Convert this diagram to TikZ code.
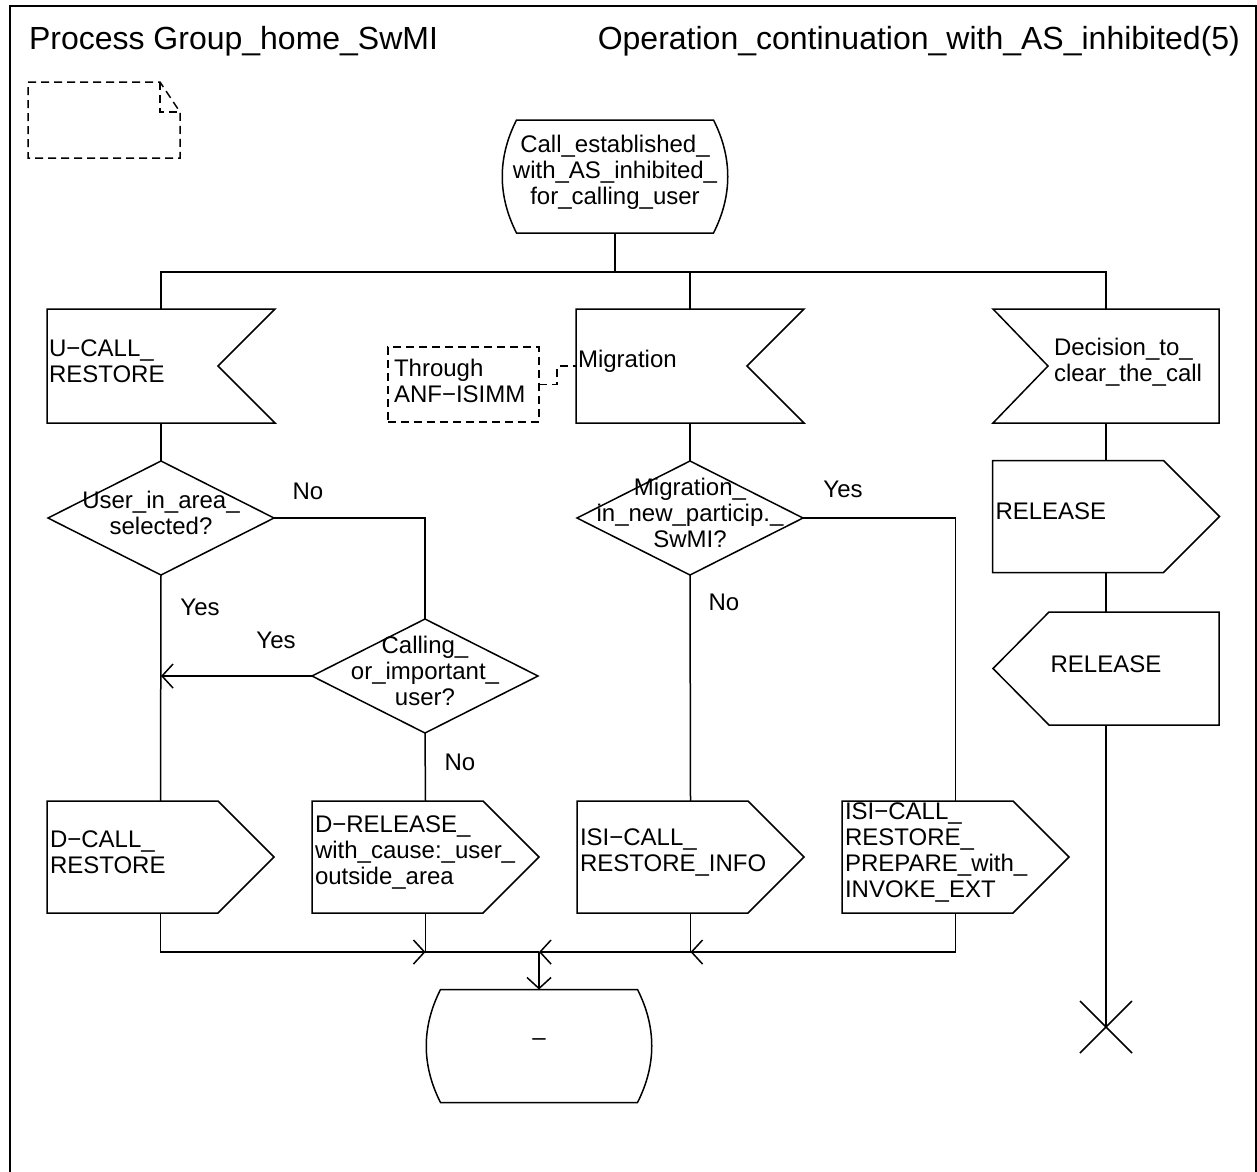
\documentclass[tikz,border=0pt]{standalone}
\usepackage{fontspec}
\setmainfont{Liberation Sans}
\usetikzlibrary{arrows.meta}
\newcommand\SdlIn[4]{%
  \node[minimum width=228pt, minimum height=114pt] (#1) at (#2,#3) {};
  \draw (#1.north west) -- (#1.north east) -- ([xshift=-57pt]#1.east) -- (#1.south east) -- (#1.south west) -- cycle;
  \node[txt, anchor=west] (#1t) at ([xshift=2pt,yshift=5pt]#1.west) {#4};
}
\newcommand\SdlInL[4]{%
  \node[minimum width=226pt, minimum height=114pt] (#1) at (#2,#3) {};
  \draw (#1.north west) -- (#1.north east) -- (#1.south east) -- (#1.south west) -- ([xshift=55pt]#1.west) -- cycle;
  \node[txt, anchor=west] (#1t) at ([xshift=61pt,yshift=4pt]#1.west) {#4};
}
\newcommand\SdlOut[4]{%
  \node[minimum width=227pt, minimum height=112pt] (#1) at (#2,#3) {};
  \draw (#1.north west) -- ([xshift=-56pt]#1.north east) -- (#1.east) -- ([xshift=-56pt]#1.south east) -- (#1.south west) -- cycle;
  \node[txt, anchor=west] (#1t) at ([xshift=3pt,yshift=5pt]#1.west) {#4};
}
\newcommand\SdlRecv[4]{%
  \node[minimum width=226pt, minimum height=113pt] (#1) at (#2,#3) {};
  \draw ([xshift=56pt]#1.north west) -- (#1.north east) -- (#1.south east) -- ([xshift=56pt]#1.south west) -- (#1.west) -- cycle;
  \node[ctxt] (#1t) at ([yshift=4pt]#1.center) {#4};
}
\newcommand\SdlDec[4]{%
  \node[minimum width=226pt, minimum height=114pt] (#1) at (#2,#3) {};
  \draw (#1.north) -- (#1.east) -- (#1.south) -- (#1.west) -- cycle;
  \node[ctxt] (#1t) at ([yshift=5pt]#1.center) {#4};
}
\newcommand\SdlState[4]{%
  \node[minimum width=226pt, minimum height=113pt] (#1) at (#2,#3) {};
  \draw ([xshift=14.5pt]#1.north west) -- ([xshift=-14.5pt]#1.north east)
     .. controls ([xshift=4.5pt,yshift=-37.5pt]#1.north east) and ([xshift=4.5pt,yshift=37.5pt]#1.south east) .. ([xshift=-14.5pt]#1.south east)
     -- ([xshift=14.5pt]#1.south west)
     .. controls ([xshift=-4.5pt,yshift=37.5pt]#1.south west) and ([xshift=-4.5pt,yshift=-37.5pt]#1.north west) .. cycle;
  \node[ctxt] (#1t) at ([yshift=4pt]#1.center) {#4};
}
\begin{document}
\begin{tikzpicture}[x=1pt,y=-1pt, line width=1.5pt,
  every node/.style={inner sep=0pt, outer sep=0pt},
  txt/.style={font=\fontsize{24}{26}\selectfont, align=left},
  ctxt/.style={font=\fontsize{24}{26}\selectfont, align=center},
  lbl/.style={font=\fontsize{24}{26}\selectfont},
  ttl/.style={font=\fontsize{32}{36}\selectfont},
  flow/.style={-{Straight Barb[length=11pt,width=24pt]}},
  dsh/.style={dash pattern=on 8pt off 5pt}]
\useasboundingbox (0,0) rectangle (1257,1171);
% frame (open at the bottom edge of the page)
\draw (10,1172) -- (10,6) -- (1256,6) -- (1256,1172);
\node[ttl, anchor=base west] (t1) at (29,49) {Process Group\_home\_SwMI};
\node[ttl, anchor=base east] (t2) at (1240,49) {Operation\_continuation\_with\_AS\_inhibited(5)};
% document symbol
\draw[dsh] (28,82) -- (160,82) -- (180,112) -- (180,158) -- (28,158) -- cycle;
\draw[dsh] (160,82) -- (160,112) -- (180,112);
% nodes
\SdlState{st}{615}{176.5}{Call\_established\_\\with\_AS\_inhibited\_\\for\_calling\_user}
\coordinate (br) at (615,272);
\SdlIn{ucall}{161}{366}{U−CALL\_\\RESTORE}
\SdlIn{mig}{690}{366}{Migration}
\SdlInL{decclr}{1106}{366}{Decision\_to\_\\clear\_the\_call}
\node[draw, dsh, minimum width=151pt, minimum height=75pt] (cmt) at (463.5,384.5) {};
\node[txt, anchor=west] (cmtt) at ([xshift=6pt,yshift=4pt]cmt.west) {Through\\ANF−ISIMM};
\SdlDec{d1}{161}{518}{User\_in\_area\_\\selected?}
\SdlDec{d2}{425}{676}{Calling\_\\or\_important\_\\user?}
\SdlDec{d3}{690}{518}{Migration\_\\in\_new\_particip.\_\\SwMI?}
\SdlOut{dcall}{160.5}{857}{D−CALL\_\\RESTORE}
\SdlOut{drel}{425.5}{857}{D−RELEASE\_\\with\_cause:\_user\_\\outside\_area}
\SdlOut{isi1}{690.5}{857}{ISI−CALL\_\\RESTORE\_INFO}
\SdlOut{isi2}{955.5}{857}{ISI−CALL\_\\RESTORE\_\\PREPARE\_with\_\\INVOKE\_EXT}
\SdlOut{relout}{1106}{516.5}{RELEASE}
\SdlRecv{relin}{1106}{668.5}{RELEASE}
\SdlState{endst}{539}{1046}{–}
\coordinate (m) at (539,952);
\coordinate (xend) at (1106,1027);
% labels
\node[lbl] (l1) at (308,491) {No};
\node[lbl] (l2) at (200,607) {Yes};
\node[lbl] (l3) at (276,640) {Yes};
\node[lbl] (l4) at (460,762) {No};
\node[lbl] (l5) at (843,489) {Yes};
\node[lbl] (l6) at (724,602) {No};
% connectors
\draw (st.south) -- (br);
\draw (ucall.north) -- (ucall.north |- br) -- (decclr.north |- br) -- (decclr.north);
\draw (mig.north) -- (mig.north |- br);
\draw[dsh] (cmt.east) -- ++(18,0) |- (mig.west);
\draw (ucall.south) -- (d1.north);
\draw (d1.south) -- (dcall.north);
\draw (d1.east) -| (d2.north);
\draw[flow] (d2.west) -- (d2.west -| d1.south);
\draw (d2.south) -- (drel.north);
\draw (mig.south) -- (d3.north);
\draw (d3.south) -- (isi1.north);
\draw (d3.east) -| (isi2.north);
\draw (drel.south) |- (m);
\draw[flow] (dcall.south) |- (drel.south |- m);
\draw[flow] (isi1.south) |- (m);
\draw[flow] (isi2.south) |- (isi1.south |- m);
\draw[flow] (m) -- (endst.north);
\draw (decclr.south) -- (relout.north);
\draw (relout.south) -- (relin.north);
\draw (relin.south) -- (xend);
\draw ([shift={(-26pt,-26pt)}]xend) -- ([shift={(26pt,26pt)}]xend);
\draw ([shift={(-26pt,26pt)}]xend) -- ([shift={(26pt,-26pt)}]xend);
\end{tikzpicture}
\end{document}
